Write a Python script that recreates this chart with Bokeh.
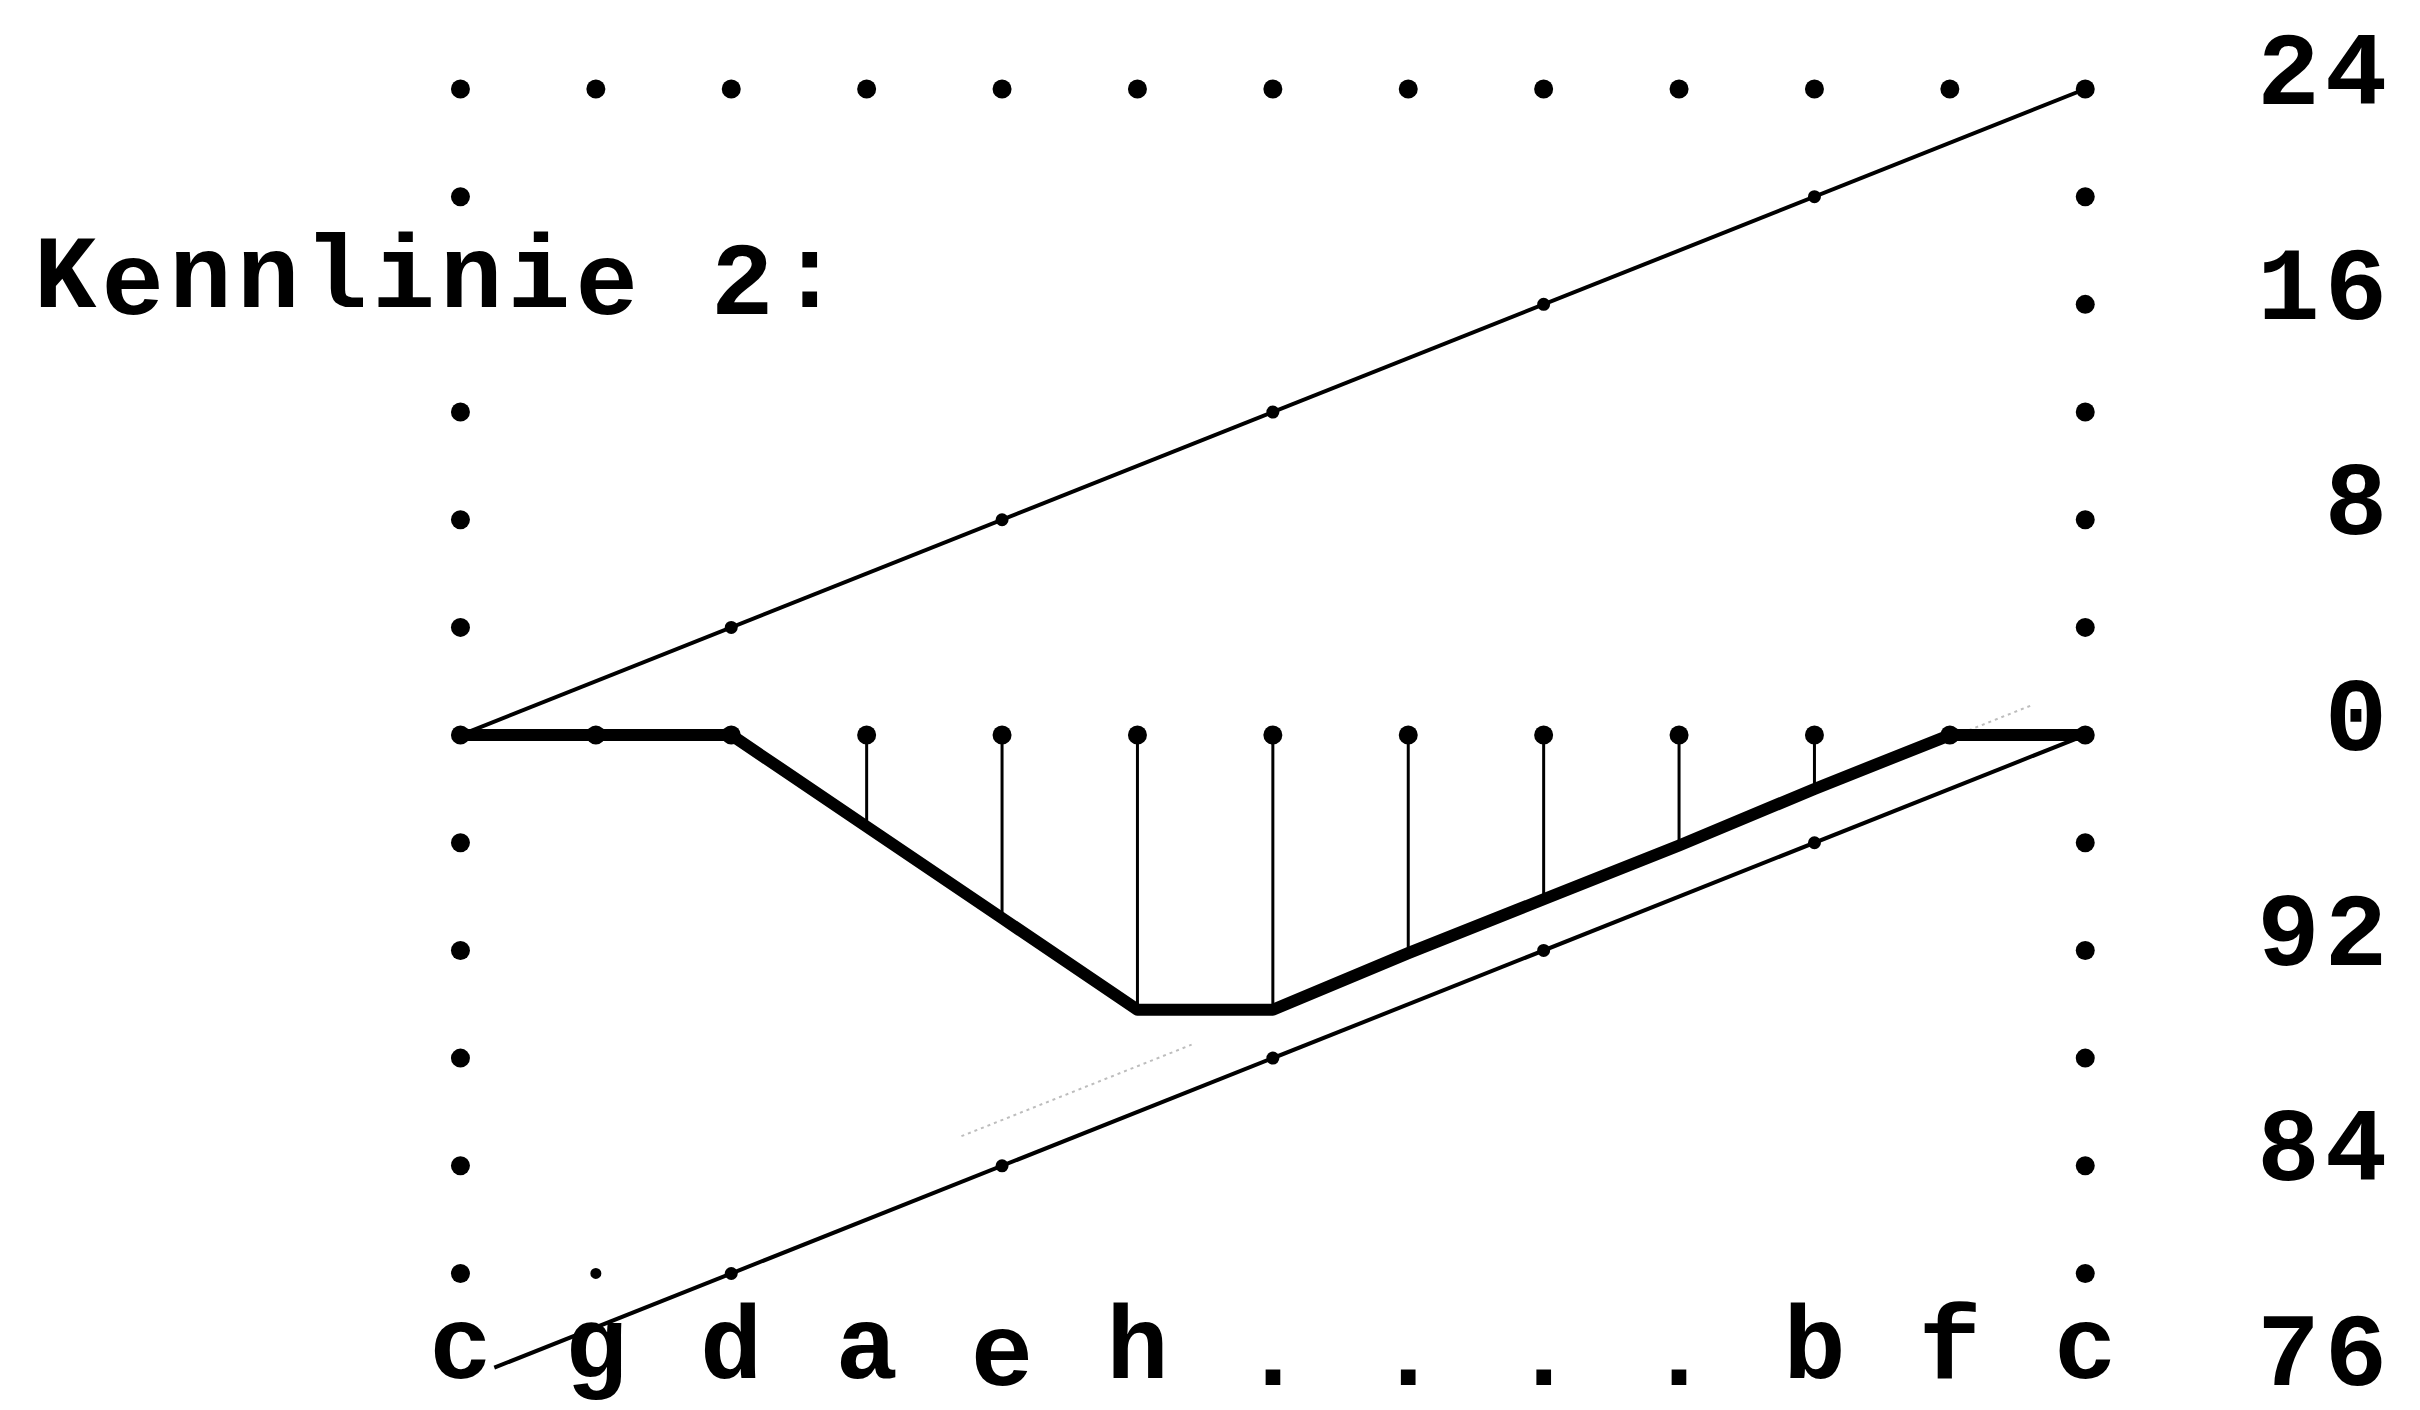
from bokeh.plotting import figure
from bokeh.models import Range1d
from bokeh.core.properties import value
from bokeh.embed import file_html
from bokeh.resources import INLINE

# ---- data (columns = circle of fifths, values in cents) ----
col_labels = ["c", "g", "d", "a", "e", "h", ".", ".", ".", ".", "b", "f", "c"]
columns = list(range(13))

tick_values = [24, 16, 8, 0, -8, -16, -24]
tick_labels = ["24", "16", "8", "0", "92", "84", "76"]

title_text = "Kennlinie 2:"
title_row = 16

# Kennlinie 2 (thick curve)
curve_x = [0, 1, 2, 3, 4, 5, 6, 7, 8, 9, 10, 11, 12]
curve_y = [0, 0, 0, -3.4, -6.8, -10.2, -10.2, -8.1, -6.1, -4.1, -2.0, 0, 0]

# vertical stems from the zero row down to the curve
stem_x = [3, 4, 5, 6, 7, 8, 9, 10]
stem_y = [-3.4, -6.8, -10.2, -10.2, -8.1, -6.1, -4.1, -2.0]

# upper reference line and its marks
upper_x = [0, 12]
upper_y = [0, 24]
upper_dot_x = [2, 4, 6, 8, 10, 12]
upper_dot_y = [4, 8, 12, 16, 20, 24]

# lower reference line and its marks
lower_x = [0.25, 12]
lower_y = [-23.5, 0]
lower_dot_x = [2, 4, 6, 8, 10, 12]
lower_dot_y = [-20, -16, -12, -8, -4, 0]

# faint (bleed-through) segments
faint_x = [[3.7, 5.4], [10.9, 11.6]]
faint_y = [[-14.9, -11.5], [-0.3, 1.1]]

# dotted frame rows
frame_rows = [24, 20, 16, 12, 8, 4, 0, -4, -8, -12, -16, -20]
lone_dot_x = [1]
lone_dot_y = [-20]

# ---- build the frame dots ----
gx, gy = [], []
for c in columns:               # top row
    gx.append(c); gy.append(24)
for r in frame_rows[1:]:        # left column (title row is text)
    if r != title_row:
        gx.append(columns[0]); gy.append(r)
for r in frame_rows[1:]:        # right column
    gx.append(columns[-1]); gy.append(r)
for c in columns[1:-1]:         # zero row
    gx.append(c); gy.append(0)

INK = "#000000"
FONT = value("Liberation Mono")
FS = "104px"
CELL = 0.5      # one typewriter character cell, in columns
TXT = 0.74      # text anchor shift above a row's dot centre (cents)
TXT_BOTTOM = 1.15

# typewriter text laid out character by character
title_x = [-2.92 + CELL * i for i, ch in enumerate(title_text) if ch != " "]
title_ch = [ch for ch in title_text if ch != " "]
title_y = [title_row + TXT + 0.19] * len(title_ch)

tick_x, tick_y, tick_ch = [], [], []
for v, lab in zip(tick_values, tick_labels):
    n = len(lab)
    for i, ch in enumerate(lab):
        tick_x.append(14.0 - CELL * (n - 1 - i))
        tick_y.append(v + (TXT_BOTTOM if v == -24 else TXT))
        tick_ch.append(ch)

p = figure(width=2420, height=1410,
           x_range=Range1d(-3.397, 14.476), y_range=Range1d(-25.09, 27.288),
           x_axis_location=None, y_axis_location=None,
           toolbar_location=None, output_backend="svg", min_border=0)
p.grid.visible = False
p.outline_line_color = None
p.background_fill_color = "white"
p.border_fill_color = "white"

# faint lines
p.multi_line(faint_x, faint_y, line_color="#bdbdbd", line_width=2, line_dash="3 4")

# reference lines
p.line(upper_x, upper_y, line_color=INK, line_width=4)
p.line(lower_x, lower_y, line_color=INK, line_width=4)

# stems
p.segment(x0=stem_x, y0=[0] * len(stem_x), x1=stem_x, y1=stem_y,
          line_color=INK, line_width=3)

# thick curve
p.line(curve_x, curve_y, line_color=INK, line_width=12,
       line_join="round", line_cap="round")

# dots
p.scatter(gx, gy, marker="circle", size=19, fill_color=INK, line_color=None)
p.scatter(upper_dot_x, upper_dot_y, marker="circle", size=13, fill_color=INK, line_color=None)
p.scatter(lower_dot_x, lower_dot_y, marker="circle", size=13, fill_color=INK, line_color=None)
p.scatter(lone_dot_x, lone_dot_y, marker="circle", size=11, fill_color=INK, line_color=None)

common = dict(text_font=FONT, text_font_style="bold", text_font_size=FS,
              text_align="center", text_baseline="alphabetic", text_color=INK)

# bottom labels
p.text(x=columns, y=[-24 + TXT_BOTTOM] * len(columns), text=col_labels, **common)

# right scale labels
p.text(x=tick_x, y=tick_y, text=tick_ch, **common)

# title
p.text(x=title_x, y=title_y, text=title_ch, **common)

open("out.html", "w").write(file_html(p, INLINE))
